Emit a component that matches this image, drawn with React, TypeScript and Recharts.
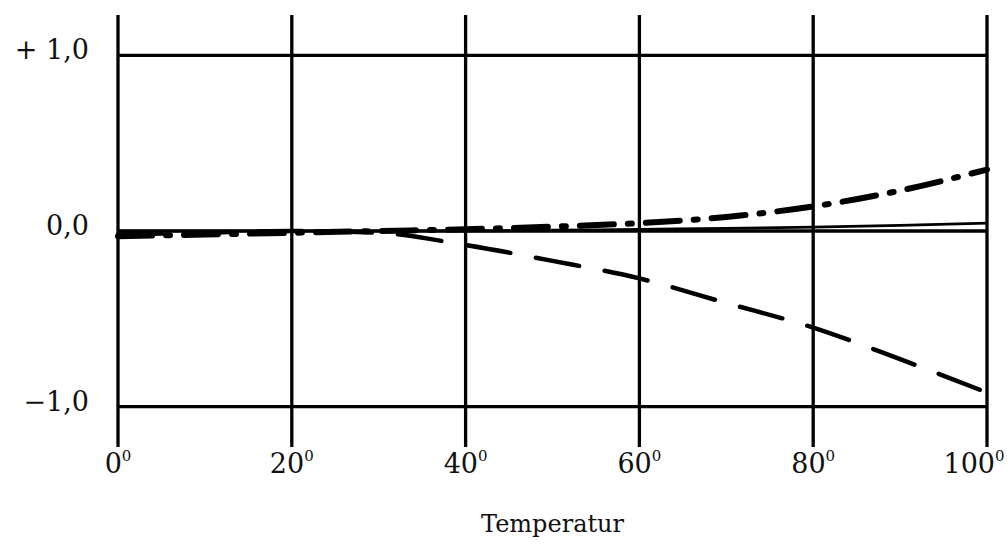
import React from 'react';
import {
  LineChart,
  Line,
  XAxis,
  YAxis,
  CartesianGrid,
  Label,
} from 'recharts';

// Temperature steps (°) and the three curves
const temperatures = [0, 10, 20, 30, 40, 50, 60, 70, 80, 90, 100];
const solidValues = [0, 0, 0, 0, 0, 0.005, 0.01, 0.015, 0.022, 0.032, 0.045];
const dashDotValues = [-0.03, -0.02, -0.01, 0, 0.01, 0.025, 0.045, 0.08, 0.14, 0.23, 0.35];
const dashedValues = [-0.02, -0.01, 0, -0.01, -0.08, -0.17, -0.27, -0.41, -0.55, -0.73, -0.92];

const xTicks = [0, 20, 40, 60, 80, 100];
const yTicks = [-1, 0, 1];
const yTickLabels: Record<string, string> = { '1': '+ 1,0', '0': '0,0', '-1': '−1,0' };

const data = temperatures.map((t, i) => ({
  t,
  solid: solidValues[i],
  dashDot: dashDotValues[i],
  dashed: dashedValues[i],
}));

const FONT = '"DejaVu Serif", "Liberation Serif", serif';

const XTick = (props: any) => {
  const { x, y, payload } = props;
  // the last label sits a bit left of its line, as on the plate
  const shift = payload.value === 100 ? -13 : 0;
  return (
    <text x={x + shift} y={y + 26} textAnchor="middle" fontFamily={FONT} fontSize={27} fill="#111">
      {payload.value}
      <tspan fontSize={15} dy={-12}>0</tspan>
    </text>
  );
};

const YTick = (props: any) => {
  const { x, y, payload } = props;
  return (
    <text x={x - 29} y={y + 4} textAnchor="end" fontFamily={FONT} fontSize={27} fill="#111">
      {yTickLabels[String(payload.value)]}
    </text>
  );
};

export default function App() {
  return (
    <div style={{ position: 'absolute', left: 0, top: 0, background: '#fff' }}>
      <LineChart
        width={1007}
        height={551}
        data={data}
        margin={{ top: 15, right: 20, bottom: 0, left: 0 }}
      >
        <CartesianGrid
          stroke="#000"
          strokeWidth={3.3}
          horizontalValues={yTicks}
          verticalValues={xTicks}
        />
        <XAxis
          dataKey="t"
          type="number"
          domain={[0, 100]}
          ticks={xTicks}
          axisLine={false}
          tickLine={false}
          tickSize={0}
          tickMargin={0}
          height={104}
          tick={<XTick />}
          interval={0}
        >
          <Label
            value="Temperatur"
            position="insideBottom"
            offset={19}
            style={{ fontFamily: FONT, fontSize: 24, fill: '#111' }}
          />
        </XAxis>
        <YAxis
          type="number"
          domain={[-1.23, 1.23]}
          ticks={yTicks}
          axisLine={false}
          tickLine={false}
          tickSize={0}
          tickMargin={0}
          width={118}
          tick={<YTick />}
          interval={0}
        />
        <Line
          type="monotone"
          dataKey="solid"
          stroke="#000"
          strokeWidth={2.6}
          dot={false}
          isAnimationActive={false}
        />
        <Line
          type="monotone"
          dataKey="dashDot"
          stroke="#000"
          strokeWidth={6}
          strokeDasharray="34 14 4 14"
          strokeLinecap="round"
          dot={false}
          isAnimationActive={false}
        />
        <Line
          type="monotone"
          dataKey="dashed"
          stroke="#000"
          strokeWidth={4.5}
          strokeDasharray="44 26"
          strokeLinecap="round"
          dot={false}
          isAnimationActive={false}
        />
      </LineChart>
    </div>
  );
}
